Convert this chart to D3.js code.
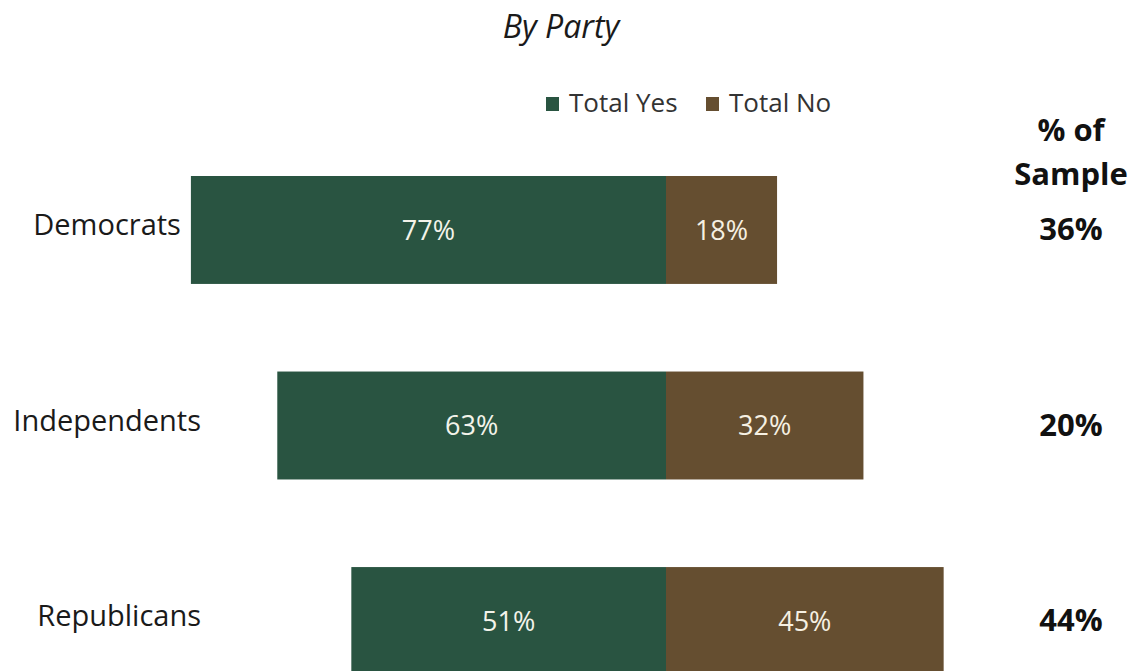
<!DOCTYPE html>
<html>
<head>
<meta charset="utf-8">
<script src="https://cdn.jsdelivr.net/npm/d3@7"></script>
<style>
  body { margin: 0; background: #fff; }
  svg { display: block; font-family: "Open Sans", Lato, sans-serif; }
</style>
</head>
<body>
<svg id="chart" width="1132" height="671"></svg>
<script>
// Survey results by party affiliation
const categories = ["Democrats", "Independents", "Republicans"];
const yesValues = [77, 63, 51];
const noValues = [18, 32, 45];
const sampleShare = [36, 20, 44];
const seriesNames = ["Total Yes", "Total No"];
const colors = { yes: "#295441", no: "#654e30" };

const svg = d3.select("#chart");

// Diverging axis: Yes extends left of zero, No to the right
const x = d3.scaleLinear().domain([-100, 100]).range([666 - 617, 666 + 617]);
const y = d3.scaleBand().domain(categories).range([176, 675])
  .paddingInner(0.448).paddingOuter(0);

// Title
svg.append("text")
  .attr("x", 561).attr("y", 38)
  .attr("text-anchor", "middle")
  .attr("font-size", 32).attr("font-style", "italic")
  .attr("fill", "#1a1a1a")
  .text("By Party");

// Legend
const legend = svg.append("g");
const legendItems = [
  { name: seriesNames[0], color: colors.yes, x: 546 },
  { name: seriesNames[1], color: colors.no, x: 706 }
];
legendItems.forEach(d => {
  legend.append("rect").attr("x", d.x).attr("y", 97).attr("width", 13).attr("height", 14).attr("fill", d.color);
  legend.append("text").attr("x", d.x + 23).attr("y", 112)
    .attr("font-size", 26).attr("fill", "#333").text(d.name);
});

const rows = categories.map((c, i) => ({ cat: c, yes: yesValues[i], no: noValues[i], share: sampleShare[i] }));

// Yes segments
svg.selectAll("rect.yes").data(rows).join("rect")
  .attr("class", "yes")
  .attr("x", d => x(-d.yes)).attr("width", d => x(0) - x(-d.yes))
  .attr("y", d => y(d.cat)).attr("height", y.bandwidth())
  .attr("fill", colors.yes);

// No segments
svg.selectAll("rect.no").data(rows).join("rect")
  .attr("class", "no")
  .attr("x", x(0)).attr("width", d => x(d.no) - x(0))
  .attr("y", d => y(d.cat)).attr("height", y.bandwidth())
  .attr("fill", colors.no);

const mid = d => y(d.cat) + y.bandwidth() / 2;

// Segment value labels
svg.selectAll("text.yesLbl").data(rows).join("text")
  .attr("x", d => (x(-d.yes) + x(0)) / 2).attr("y", mid).attr("dy", "0.36em")
  .attr("text-anchor", "middle").attr("font-size", 27).attr("fill", "#f3f3ea")
  .text(d => d.yes + "%");
svg.selectAll("text.noLbl").data(rows).join("text")
  .attr("x", d => (x(0) + x(d.no)) / 2).attr("y", mid).attr("dy", "0.36em")
  .attr("text-anchor", "middle").attr("font-size", 27).attr("fill", "#f6f0e2")
  .text(d => d.no + "%");

// Category labels, kept clear of the bar's left edge
svg.selectAll("text.cat").data(rows).join("text")
  .attr("x", d => Math.min(201, x(-d.yes) - 10)).attr("y", d => mid(d) - 5).attr("dy", "0.36em")
  .attr("text-anchor", "end").attr("font-size", 29).attr("fill", "#1a1a1a")
  .text(d => d.cat);

// Share of sample column
svg.append("text").attr("x", 1071).attr("y", 141).attr("text-anchor", "middle")
  .attr("font-size", 31).attr("font-weight", "bold").attr("fill", "#111").text("% of");
svg.append("text").attr("x", 1071).attr("y", 185).attr("text-anchor", "middle")
  .attr("font-size", 31).attr("font-weight", "bold").attr("fill", "#111").text("Sample");
svg.selectAll("text.share").data(rows).join("text")
  .attr("x", 1071).attr("y", d => mid(d) - 1).attr("dy", "0.36em")
  .attr("text-anchor", "middle").attr("font-size", 31).attr("font-weight", "bold").attr("fill", "#111")
  .text(d => d.share + "%");
</script>
</body>
</html>
